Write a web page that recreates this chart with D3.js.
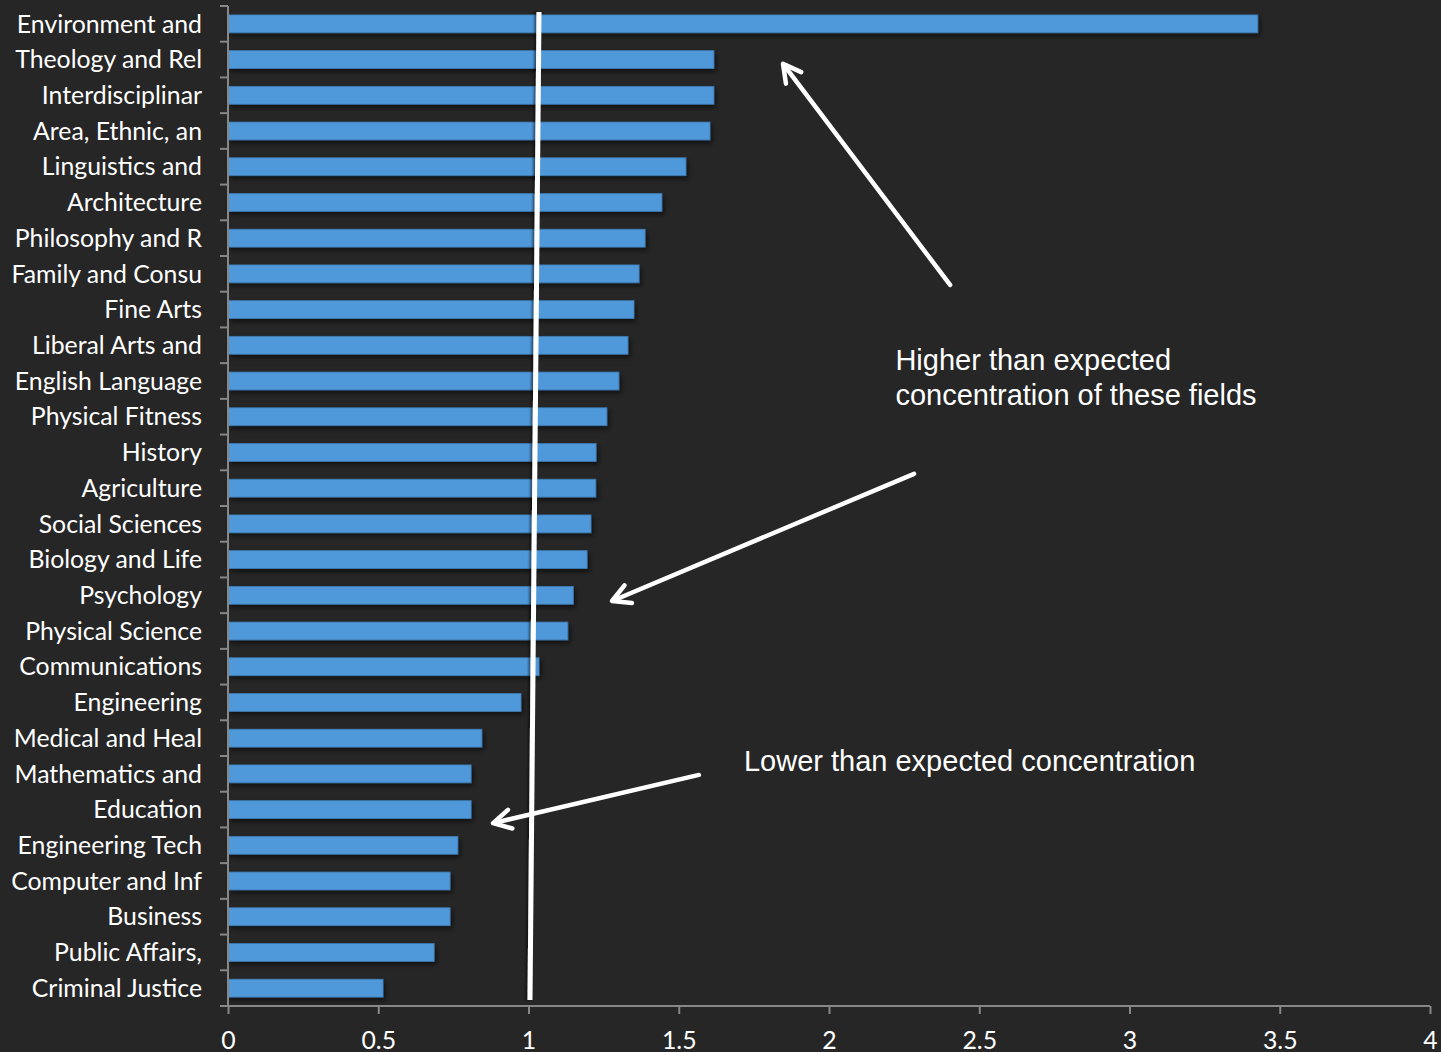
<!DOCTYPE html>
<html>
<head>
<meta charset="utf-8">
<script src="https://cdn.jsdelivr.net/npm/d3@7"></script>
<style>
  html, body { margin: 0; padding: 0; background: #262626; }
  svg { display: block; }
</style>
</head>
<body>
<script>
// Fields of study, in display order (top to bottom)
const categories = [
  "Environment and", "Theology and Rel", "Interdisciplinar", "Area, Ethnic, an",
  "Linguistics and", "Architecture", "Philosophy and R", "Family and Consu",
  "Fine Arts", "Liberal Arts and", "English Language", "Physical Fitness",
  "History", "Agriculture", "Social Sciences", "Biology and Life",
  "Psychology", "Physical Science", "Communications", "Engineering",
  "Medical and Heal", "Mathematics and", "Education", "Engineering Tech",
  "Computer and Inf", "Business", "Public Affairs,", "Criminal Justice"
];

// Concentration ratio for each field
const values = [
  3.427, 1.617, 1.617, 1.604,
  1.524, 1.444, 1.388, 1.368,
  1.351, 1.331, 1.301, 1.261,
  1.225, 1.224, 1.208, 1.195,
  1.149, 1.131, 1.035, 0.975,
  0.845, 0.809, 0.809, 0.765,
  0.739, 0.739, 0.686, 0.516
];

const xTicks = [0, 0.5, 1, 1.5, 2, 2.5, 3, 3.5, 4];
const xTickLabels = ["0", "0.5", "1", "1.5", "2", "2.5", "3", "3.5", "4"];

// Callouts: text and arrows, positioned in (value, row) units
const calloutTexts = [
  { lines: ["Higher than expected", "concentration of these fields"], x: 2.221, row: 10.19 },
  { lines: ["Lower than expected concentration"], x: 1.717, row: 21.42 }
];
const arrows = [
  { from: [2.403, 7.81], to: [1.847, 1.62] },
  { from: [2.283, 13.10], to: [1.278, 16.66] },
  { from: [1.567, 21.53], to: [0.882, 22.88] }
];
// Reference line at a ratio of 1 (hand-drawn, slightly tilted)
const refLine = { top: [1.035, 0.17], bottom: [1.005, 27.83] };

const W = 1441, H = 1052;
const plotLeft = 228, plotRight = 1430, plotTop = 6, plotBottom = 1006;

const svg = d3.select("body").append("svg")
  .attr("width", W).attr("height", H)
  .style("background", "#262626");

const defs = svg.append("defs");
const shadow = defs.append("filter").attr("id", "barShadow")
  .attr("x", "-5%").attr("y", "-50%").attr("width", "110%").attr("height", "220%");
shadow.append("feDropShadow")
  .attr("dx", 2).attr("dy", 3).attr("stdDeviation", 2.5)
  .attr("flood-color", "#000").attr("flood-opacity", 0.55);

const lineShadow = defs.append("filter").attr("id", "lineShadow")
  .attr("x", "-200%").attr("y", "-5%").attr("width", "500%").attr("height", "110%");
lineShadow.append("feDropShadow")
  .attr("dx", -2).attr("dy", 0).attr("stdDeviation", 1.2)
  .attr("flood-color", "#000").attr("flood-opacity", 0.5);

const x = d3.scaleLinear().domain([0, 4]).range([plotLeft, plotRight]);
const y = d3.scaleBand().domain(categories).range([plotTop, plotBottom])
  .paddingInner(0.5).paddingOuter(0.25);
const row = d3.scaleLinear().domain([0, categories.length]).range([plotTop, plotBottom]);

const axisColor = "#878787";
const labelFont = "Lato, 'Open Sans', sans-serif";
const labelSize = "24.8px";

// Bars
svg.append("g").selectAll("rect")
  .data(values)
  .join("rect")
  .attr("x", x(0))
  .attr("y", (d, i) => y(categories[i]))
  .attr("width", d => x(d) - x(0))
  .attr("height", y.bandwidth())
  .attr("fill", "#4f98da")
  .attr("stroke", "#3f7bb2")
  .attr("stroke-width", 0.8)
  .attr("filter", "url(#barShadow)");

// Category axis: line, ticks at band boundaries, labels
const yAxis = svg.append("g");
yAxis.append("line")
  .attr("x1", plotLeft).attr("x2", plotLeft).attr("y1", plotTop).attr("y2", plotBottom)
  .attr("stroke", axisColor).attr("stroke-width", 2);
yAxis.selectAll("line.tick")
  .data(d3.range(categories.length + 1))
  .join("line").attr("class", "tick")
  .attr("x1", plotLeft - 8).attr("x2", plotLeft)
  .attr("y1", i => row(i)).attr("y2", i => row(i))
  .attr("stroke", axisColor).attr("stroke-width", 2);
yAxis.selectAll("text")
  .data(categories)
  .join("text")
  .attr("x", 202)
  .attr("y", d => y(d) + y.bandwidth() / 2)
  .attr("dy", "0.35em")
  .attr("text-anchor", "end")
  .attr("fill", "#ffffff")
  .style("font-family", labelFont)
  .style("font-size", labelSize)
  .text(d => d);

// Value axis
const xAxis = svg.append("g").attr("transform", `translate(0,${plotBottom})`)
  .call(d3.axisBottom(x).tickValues(xTicks)
    .tickFormat((d, i) => xTickLabels[i]).tickSize(8).tickSizeOuter(0));
xAxis.select(".domain").attr("stroke", axisColor).attr("stroke-width", 2)
  .attr("d", `M${plotLeft},0H${plotRight}`);
xAxis.selectAll(".tick line").attr("stroke", axisColor).attr("stroke-width", 2);
xAxis.selectAll(".tick text")
  .attr("fill", "#ffffff")
  .attr("y", 25)
  .attr("dy", "0.71em")
  .style("font-family", labelFont)
  .style("font-size", labelSize);

// Reference line at 1
svg.append("line")
  .attr("x1", x(refLine.top[0])).attr("y1", row(refLine.top[1]))
  .attr("x2", x(refLine.bottom[0])).attr("y2", row(refLine.bottom[1]))
  .attr("stroke", "#ffffff").attr("stroke-width", 5)
  .attr("filter", "url(#lineShadow)");

// Arrows with open chevron heads
const ag = svg.append("g")
  .attr("stroke", "#ffffff").attr("stroke-width", 4.5)
  .attr("stroke-linecap", "round").attr("stroke-linejoin", "round")
  .attr("fill", "none");
arrows.forEach(a => {
  const x1 = x(a.from[0]), y1 = row(a.from[1]);
  const x2 = x(a.to[0]), y2 = row(a.to[1]);
  const ang = Math.atan2(y2 - y1, x2 - x1);
  const len = 20, spread = 0.5;
  ag.append("line")
    .attr("x1", x1).attr("y1", y1)
    .attr("x2", x2 - 2 * Math.cos(ang)).attr("y2", y2 - 2 * Math.sin(ang));
  const p1 = [x2 - len * Math.cos(ang - spread), y2 - len * Math.sin(ang - spread)];
  const p2 = [x2 - len * Math.cos(ang + spread), y2 - len * Math.sin(ang + spread)];
  ag.append("path").attr("d", `M${p1[0]},${p1[1]}L${x2},${y2}L${p2[0]},${p2[1]}`);
});

// Callout texts
calloutTexts.forEach(c => {
  const t = svg.append("text")
    .attr("x", x(c.x)).attr("y", row(c.row))
    .attr("fill", "#ffffff")
    .style("font-family", "'Liberation Sans', Arial, sans-serif")
    .style("font-size", "29px");
  c.lines.forEach((ln, i) => {
    t.append("tspan").attr("x", x(c.x)).attr("dy", i === 0 ? 0 : 35).text(ln);
  });
});
</script>
</body>
</html>
